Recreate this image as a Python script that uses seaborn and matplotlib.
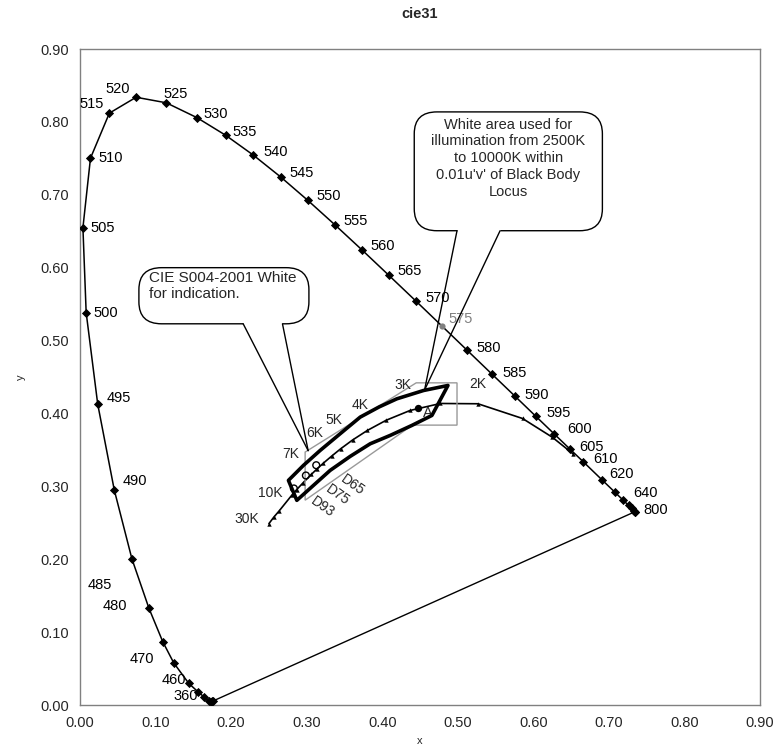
import numpy as np
import pandas as pd
import seaborn as sns
import matplotlib.pyplot as plt
from matplotlib.patches import FancyBboxPatch, Polygon

# spectral locus (CIE 1931), wavelength in nm
wl = [360, 380, 400, 420, 440, 450, 460, 470, 475, 480, 485, 490, 495, 500, 505, 510,
      515, 520, 525, 530, 535, 540, 545, 550, 555, 560, 565, 570, 575, 580, 585, 590,
      595, 600, 605, 610, 620, 630, 640, 650, 660, 680, 700, 800]
wl_x = [0.1756, 0.1741, 0.1733, 0.1714, 0.1644, 0.1566, 0.1440, 0.1241, 0.1096, 0.0913,
        0.0687, 0.0454, 0.0235, 0.0082, 0.0039, 0.0139, 0.0389, 0.0743, 0.1142, 0.1547,
        0.1929, 0.2296, 0.2658, 0.3016, 0.3373, 0.3731, 0.4087, 0.4441, 0.4788, 0.5125,
        0.5448, 0.5752, 0.6029, 0.6270, 0.6482, 0.6658, 0.6915, 0.7079, 0.7190, 0.7260,
        0.7300, 0.7334, 0.7347, 0.7347]
wl_y = [0.0053, 0.0050, 0.0048, 0.0051, 0.0109, 0.0177, 0.0297, 0.0578, 0.0868, 0.1327,
        0.2007, 0.2950, 0.4127, 0.5384, 0.6548, 0.7502, 0.8120, 0.8338, 0.8262, 0.8059,
        0.7816, 0.7543, 0.7243, 0.6923, 0.6589, 0.6245, 0.5896, 0.5547, 0.5202, 0.4866,
        0.4544, 0.4242, 0.3965, 0.3725, 0.3514, 0.3340, 0.3083, 0.2920, 0.2809, 0.2740,
        0.2700, 0.2666, 0.2653, 0.2653]

# which wavelengths get a label: (ha, dx px, dy px)
wl_labels = {
    360: ("right", -15, 5), 460: ("right", -3, 3), 470: ("right", -20, 4),
    480: ("right", -22, 2), 485: ("center", -32, -26), 490: ("left", 8, 9),
    495: ("left", 9, 6), 500: ("left", 7, 0), 505: ("left", 8, 0), 510: ("left", 8, 0),
    515: ("right", -6, 9), 520: ("right", -6, 8), 525: ("left", -3, 9),
    530: ("left", 7, 4), 535: ("left", 7, 3), 540: ("left", 10, 3), 545: ("left", 9, 4),
    550: ("left", 9, 4), 555: ("left", 9, 4), 560: ("left", 9, 4), 565: ("left", 9, 4),
    570: ("left", 10, 3), 575: ("left", 7, 7), 580: ("left", 9, 2), 585: ("left", 11, 1),
    590: ("left", 10, 1), 595: ("left", 11, 3), 600: ("left", 14, 5), 605: ("left", 10, 2),
    610: ("left", 10, 3), 620: ("left", 7, 6), 640: ("left", 10, 7), 800: ("left", 8, 2),
}

# Planckian locus
cct = [1000, 1200, 1500, 2000, 2500, 3000, 3500, 4000, 4500, 5000, 5500, 6000, 6500,
       7000, 8000, 9000, 10000, 15000, 20000, 30000]
cct_x = [0.6528, 0.6251, 0.5857, 0.5267, 0.4770, 0.4369, 0.4053, 0.3805, 0.3608, 0.3451,
         0.3330, 0.3221, 0.3135, 0.3064, 0.2952, 0.2869, 0.2807, 0.2637, 0.2565, 0.2501]
cct_y = [0.3444, 0.3674, 0.3931, 0.4133, 0.4137, 0.4041, 0.3907, 0.3768, 0.3636, 0.3516,
         0.3414, 0.3318, 0.3237, 0.3166, 0.3048, 0.2956, 0.2883, 0.2664, 0.2577, 0.2489]
cct_labels = {2000: ("2K", 0, 20), 3000: ("3K", -7, 25), 4000: ("4K", -7, 25),
              5000: ("5K", -7, 29), 6000: ("6K", -9, 30), 7000: ("7K", -21, 20),
              10000: ("10K", -22, 2), 30000: ("30K", -22, 5)}

# illuminants
d_names = ["D65", "D75", "D93"]
d_x = [0.3127, 0.2990, 0.2831]
d_y = [0.3290, 0.3149, 0.2971]
a_x, a_y = 0.4476, 0.4074

# white areas
illum_x = [0.2759, 0.2958, 0.3179, 0.3444, 0.3709, 0.3960, 0.4194, 0.4547, 0.4870,
           0.4658, 0.4393, 0.4106, 0.3841, 0.3576, 0.3311, 0.3091, 0.2870]
illum_y = [0.3082, 0.3288, 0.3493, 0.3722, 0.3950, 0.4090, 0.4201, 0.4315, 0.4384,
           0.3973, 0.3836, 0.3699, 0.3584, 0.3411, 0.3219, 0.3014, 0.2808]
s004_x = [0.298, 0.298, 0.440, 0.499, 0.499, 0.445]
s004_y = [0.347, 0.281, 0.384, 0.384, 0.442, 0.442]

ticks = [0.0, 0.1, 0.2, 0.3, 0.4, 0.5, 0.6, 0.7, 0.8, 0.9]
tick_labels = ["0.00", "0.10", "0.20", "0.30", "0.40", "0.50", "0.60", "0.70", "0.80", "0.90"]

sns.set_theme(style="white")
plt.rcParams['font.family'] = ['Liberation Sans', 'DejaVu Sans']
plt.rcParams['font.size'] = 10

fig, ax = plt.subplots(figsize=(7.84, 7.47), dpi=100)
fig.subplots_adjust(left=0.102, right=0.9694, bottom=0.0562, top=0.9344)

locus = pd.DataFrame({"wl": wl, "x": wl_x, "y": wl_y})
sns.lineplot(data=locus, x="x", y="y", sort=False, estimator=None, color="black",
             linewidth=1.1, ax=ax)
ends = locus[locus.wl.isin([360, 800])]
sns.lineplot(data=ends, x="x", y="y", sort=False, estimator=None, color="black",
             linewidth=1.0, ax=ax)
sns.scatterplot(data=locus[locus.wl != 575], x="x", y="y", marker="D", s=22,
                color="black", linewidth=0, ax=ax, zorder=3)
sns.scatterplot(data=locus[locus.wl == 575], x="x", y="y", marker="o", s=20,
                color="gray", linewidth=0, ax=ax, zorder=3)
for w, px, py in zip(wl, wl_x, wl_y):
    if w in wl_labels:
        ha, dx, dy = wl_labels[w]
        ax.annotate(str(w), (px, py), xytext=(dx, dy), textcoords="offset pixels",
                    ha=ha, va="center", fontsize=10.5,
                    color="gray" if w == 575 else "black")

planck = pd.DataFrame({"cct": cct, "x": cct_x, "y": cct_y})
sns.lineplot(data=planck, x="x", y="y", sort=False, estimator=None, color="black",
             linewidth=1.2, ax=ax)
sns.scatterplot(data=planck, x="x", y="y", marker="^", s=10, color="black",
                linewidth=0, ax=ax, zorder=3)
for t, px, py in zip(cct, cct_x, cct_y):
    if t in cct_labels:
        lab, dx, dy = cct_labels[t]
        ax.annotate(lab, (px, py), xytext=(dx, dy), textcoords="offset pixels",
                    ha="center", va="center", fontsize=10)

ax.add_patch(Polygon(np.column_stack([s004_x, s004_y]), closed=True, fill=False,
                     edgecolor="#999999", linewidth=1.0, zorder=2))
ax.add_patch(Polygon(np.column_stack([illum_x, illum_y]), closed=True, fill=False,
                     edgecolor="black", linewidth=2.6, zorder=4, joinstyle="round"))

sns.scatterplot(x=d_x, y=d_y, marker="o", s=24, facecolor="none", edgecolor="black",
                linewidth=1.0, ax=ax, zorder=5)
d_off = [(36, -20), (32, -20), (29, -19)]
for name, px, py, (dx, dy) in zip(d_names, d_x, d_y, d_off):
    ax.annotate(name, (px, py), xytext=(dx, dy), textcoords="offset pixels",
                ha="center", va="center", rotation=-35, fontsize=10)
sns.scatterplot(x=[a_x], y=[a_y], marker="o", s=28, color="black", linewidth=0,
                ax=ax, zorder=5)
ax.annotate("A", (a_x, a_y), xytext=(10, -5), textcoords="offset pixels",
            ha="center", va="center", fontsize=10.5)


def callout(x0, x1, y0, y1, b1, b2, tip, text, tx, ty, ha, size):
    box = FancyBboxPatch((x0, y0), x1 - x0, y1 - y0,
                         boxstyle="round,pad=0,rounding_size=0.03",
                         facecolor="white", edgecolor="black", linewidth=1.0, zorder=6)
    ax.add_patch(box)
    ax.plot([b1, b2], [y0, y0], color="white", linewidth=2.5, zorder=7,
            solid_capstyle="butt")
    ax.plot([b1, tip[0]], [y0, tip[1]], color="black", linewidth=1.0, zorder=7)
    ax.plot([b2, tip[0]], [y0, tip[1]], color="black", linewidth=1.0, zorder=7)
    ax.text(tx, ty, text, ha=ha, va="top", fontsize=size, linespacing=1.25, zorder=8)


callout(0.078, 0.303, 0.523, 0.600, 0.216, 0.268, (0.302, 0.349),
        "CIE S004-2001 White\nfor indication.", 0.0914, 0.596, "left", 11)
callout(0.4424, 0.6914, 0.6507, 0.8137, 0.499, 0.556, (0.456, 0.432),
        "White area used for\nillumination from 2500K\nto 10000K within\n"
        "0.01u'v' of Black Body\nLocus", 0.567, 0.806, "center", 10.5)

ax.set_xlim(0, 0.9)
ax.set_ylim(0, 0.9)
ax.set_xticks(ticks)
ax.set_xticklabels(tick_labels)
ax.set_yticks(ticks)
ax.set_yticklabels(tick_labels)
ax.tick_params(direction="in", length=4, color="#808080", labelsize=10.5, pad=8)
for sp in ax.spines.values():
    sp.set_color("#808080")
    sp.set_linewidth(1.0)
ax.set_xlabel("x", fontsize=8, labelpad=4)
ax.set_ylabel("y", fontsize=8, labelpad=10)
ax.set_title("cie31", fontsize=10.5, fontweight="bold", pad=22)

plt.savefig("out.png", dpi=100)
